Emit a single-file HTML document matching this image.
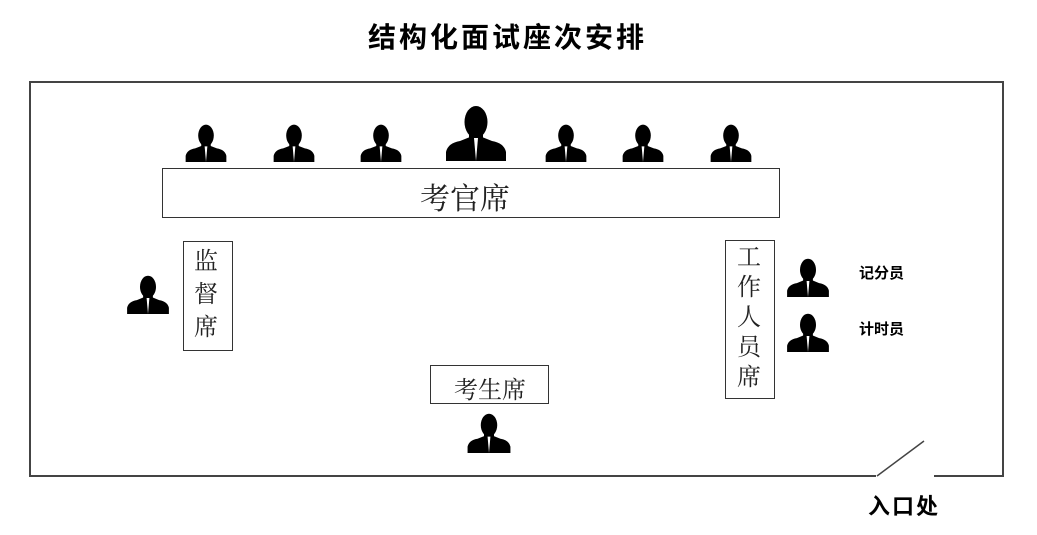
<!DOCTYPE html>
<html><head><meta charset="utf-8"><style>
body{margin:0;background:#fff;width:1037px;height:535px;position:relative;overflow:hidden;font-family:"Liberation Serif","Noto Serif CJK SC","Noto Sans CJK SC",serif;}
.t{position:absolute;white-space:nowrap;}
.box{position:absolute;border:1.5px solid #333;box-sizing:border-box;background:#fff;}
.b{font-family:"Liberation Sans","Noto Sans CJK SC",sans-serif;font-weight:bold;}
</style></head><body>
<svg width="1037" height="535" style="position:absolute;left:0;top:0">
<defs>
<symbol id="p" viewBox="0 0 60 56">
<ellipse cx="30" cy="17" rx="11.5" ry="16" fill="#000"/>
<rect x="23" y="24" width="14" height="12" fill="#000"/>
<path d="M0 56 L0 47 Q2 38 14 36 L24 32 L36 32 L46 36 Q58 38 60 47 L60 56 Z" fill="#000"/>
<path d="M28 33 L30 56 L32 33 Z" fill="#fff"/>
</symbol>
</defs>
<path d="M876 476 L30 476 L30 82 L1003 82 L1003 476 L934 476" fill="none" stroke="#444" stroke-width="2"/>
<line x1="877" y1="476" x2="924" y2="441" stroke="#444" stroke-width="1.5"/>
<use href="#p" x="184" y="124" width="44" height="38"/>
<use href="#p" x="272" y="124" width="44" height="38"/>
<use href="#p" x="359" y="124" width="44" height="38"/>
<use href="#p" x="446" y="105" width="60" height="56"/>
<use href="#p" x="544" y="124" width="44" height="38"/>
<use href="#p" x="621" y="124" width="44" height="38"/>
<use href="#p" x="709" y="124" width="44" height="38"/>
<use href="#p" x="126" y="275" width="44" height="39"/>
<use href="#p" x="786" y="258" width="44" height="39"/>
<use href="#p" x="786" y="313" width="44" height="39"/>
<use href="#p" x="467" y="413" width="44" height="40"/>
</svg>
<div class="t b" style="left:368px;top:16px;font-size:28px;letter-spacing:3px;">结构化面试座次安排</div>
<div class="box" style="left:162px;top:168px;width:618px;height:50px;"></div>
<div class="t" style="left:420px;top:174px;font-size:30px;color:#222;">考官席</div>
<div class="box" style="left:183px;top:241px;width:50px;height:110px;"></div>
<div class="t" style="left:194px;top:246px;font-size:24px;line-height:33px;color:#222;white-space:normal;width:28px;">监督席</div>
<div class="box" style="left:725px;top:240px;width:50px;height:159px;"></div>
<div class="t" style="left:737px;top:243px;font-size:24px;line-height:30px;color:#222;white-space:normal;width:28px;">工作人员席</div>
<div class="box" style="left:430px;top:365px;width:119px;height:39px;"></div>
<div class="t" style="left:454px;top:370px;font-size:24px;color:#222;">考生席</div>
<div class="t b" style="left:859px;top:262px;font-size:15px;">记分员</div>
<div class="t b" style="left:859px;top:318px;font-size:15px;">计时员</div>
<div class="t b" style="left:868px;top:489px;font-size:22px;letter-spacing:2px;">入口处</div>
</body></html>
